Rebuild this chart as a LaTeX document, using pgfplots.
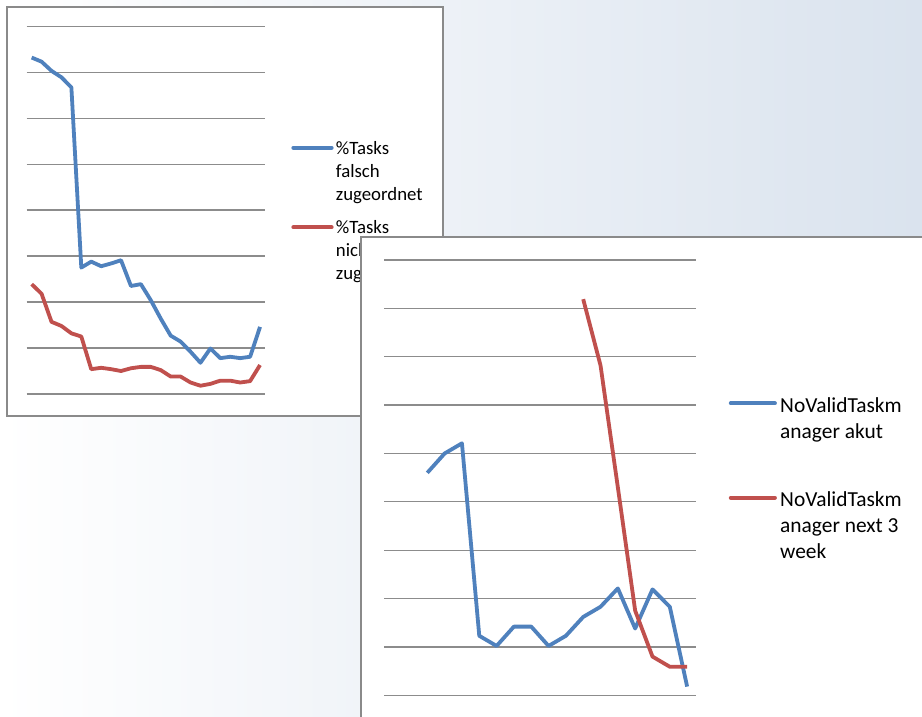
\documentclass[border=0pt]{standalone}
\usepackage{pgfplots}
\pgfplotsset{compat=1.18}
\usepackage{fontspec}
\setmainfont{Carlito}
\definecolor{xblue}{RGB}{79,129,189}
\definecolor{xred}{RGB}{192,80,77}
\definecolor{framec}{RGB}{138,138,138}
\definecolor{gridc}{RGB}{140,140,140}
\definecolor{bgr}{RGB}{218,227,238}
\pgfplotsset{
  panel/.style={
    scale only axis,
    anchor=south west,
    xtick=\empty,
    yticklabel=\empty,
    ymajorgrids,
    major grid style={gridc, line width=1.3pt},
    axis line style={draw=none},
    tick style={draw=none},
    clip=false,
    every axis plot/.append style={line width=3.8pt, line join=round, mark=none},
  }
}
\begin{document}
\begin{tikzpicture}
\useasboundingbox (0pt,0pt) rectangle (922pt,717pt);
\clip (0pt,0pt) rectangle (922pt,717pt);
\shade[left color=white, right color=bgr] (0pt,0pt) rectangle (922pt,717pt);
% ---------- panel 1 ----------
\draw[framec, fill=white, line width=1.5pt] (7pt,301pt) rectangle (443pt,710pt);
\begin{axis}[panel, at={(26.7pt,323pt)}, width=238.3pt, height=367.7pt,
  xmin=-0.5, xmax=23.5, ymin=0, ymax=8, ytick={0,1,...,8}]
\addplot[xblue] coordinates {
(0,7.32) (1,7.23) (2,7.03) (3,6.89) (4,6.67) (5,2.75) (6,2.88) (7,2.78)
(8,2.84) (9,2.91) (10,2.35) (11,2.39) (12,2.04) (13,1.64) (14,1.27) (15,1.14)
(16,0.92) (17,0.68) (18,0.99) (19,0.78) (20,0.81) (21,0.78) (22,0.81) (23,1.46)};
\addplot[xred] coordinates {
(0,2.39) (1,2.18) (2,1.57) (3,1.48) (4,1.32) (5,1.25) (6,0.54) (7,0.57)
(8,0.54) (9,0.50) (10,0.56) (11,0.59) (12,0.59) (13,0.52) (14,0.38) (15,0.38)
(16,0.25) (17,0.18) (18,0.22) (19,0.29) (20,0.29) (21,0.25) (22,0.28) (23,0.63)};
\end{axis}
\draw[xblue, line width=3.8pt, line cap=round] (293.3pt,569.3pt) -- (331.7pt,569.3pt);
\draw[xred, line width=3.8pt, line cap=round] (293.3pt,489.7pt) -- (331.7pt,489.7pt);
\begin{scope}[every node/.style={anchor=base west, inner sep=0pt, font=\fontsize{18.8}{23}\selectfont}]
\node at (335.7pt,562.7pt) {\%Tasks};
\node at (335.7pt,539.7pt) {falsch};
\node at (335.7pt,516.7pt) {zugeordnet};
\node at (335.7pt,483.5pt) {\%Tasks};
\node at (335.7pt,460.5pt) {nicht};
\node at (335.7pt,437.5pt) {zugeordnet};
\end{scope}
% ---------- panel 2 ----------
\draw[framec, fill=white, line width=1.5pt] (361pt,-10pt) rectangle (935pt,480pt);
\begin{axis}[panel, at={(384pt,21.7pt)}, width=311.8pt, height=435.3pt,
  xmin=-0.5, xmax=17.5, ymin=0, ymax=9, ytick={0,1,...,9}]
\addplot[xblue] coordinates {
(2,4.60) (3,5.00) (4,5.21) (5,1.23) (6,1.02) (7,1.42) (8,1.42) (9,1.02)
(10,1.23) (11,1.62) (12,1.83) (13,2.21) (14,1.38) (15,2.19) (16,1.83) (17,0.18)};
\addplot[xred] coordinates {
(11,8.19) (12,6.82) (13,4.30) (14,1.75) (15,0.80) (16,0.59) (17,0.59)};
\end{axis}
\draw[xblue, line width=3.8pt, line cap=round] (730.7pt,313.7pt) -- (775pt,313.7pt);
\draw[xred, line width=3.8pt, line cap=round] (730.7pt,219.3pt) -- (775pt,219.3pt);
\begin{scope}[every node/.style={anchor=base west, inner sep=0pt, font=\fontsize{21.4}{26}\selectfont}]
\node at (780pt,304.3pt) {NoValidTaskm};
\node at (780pt,278.5pt) {anager akut};
\node at (780pt,210.3pt) {NoValidTaskm};
\node at (780pt,184.5pt) {anager next 3};
\node at (780pt,158.7pt) {week};
\end{scope}
\end{tikzpicture}
\end{document}
